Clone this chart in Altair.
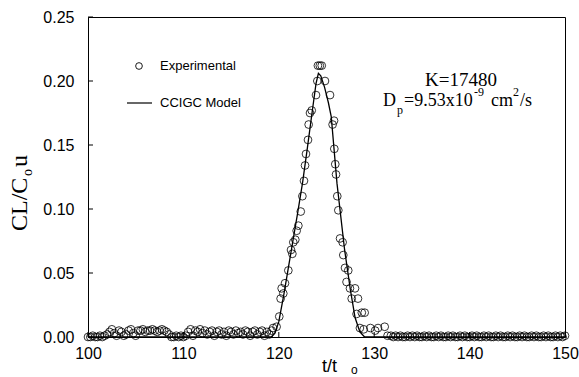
import altair as alt
import pandas as pd

# ---- data ----
base_left_t = [100.0, 100.25, 100.5, 100.75, 101.0, 101.25, 101.5, 101.75, 102.0, 102.25,
               102.5, 102.75, 103.0, 103.25, 103.5, 103.75, 104.0, 104.25, 104.5, 104.75,
               105.0, 105.25, 105.5, 105.75, 106.0, 106.25, 106.5, 106.75, 107.0, 107.25,
               107.5, 107.75, 108.0, 108.25, 108.5, 108.75, 109.0, 109.25, 109.5, 109.75,
               110.0, 110.25, 110.5, 110.75, 111.0, 111.25, 111.5, 111.75, 112.0, 112.25,
               112.5, 112.75, 113.0, 113.25, 113.5, 113.75, 114.0, 114.25, 114.5, 114.75,
               115.0, 115.25, 115.5, 115.75, 116.0, 116.25, 116.5, 116.75, 117.0, 117.25,
               117.5, 117.75, 118.0, 118.25, 118.5, 118.75, 119.0, 119.25]
base_left_v = [0.000, 0.000, 0.001, 0.000, 0.000, 0.001, 0.000, 0.001, 0.002, 0.004,
               0.006, 0.003, 0.001, 0.005, 0.004, 0.001, 0.002, 0.005, 0.006, 0.003,
               0.001, 0.005, 0.005, 0.006, 0.004, 0.005, 0.005, 0.006, 0.005, 0.004,
               0.005, 0.006, 0.005, 0.004, 0.002, 0.000, 0.000, 0.001, 0.000, 0.001,
               0.000, 0.001, 0.004, 0.006, 0.001, 0.005, 0.004, 0.006, 0.003, 0.005,
               0.002, 0.004, 0.005, 0.001, 0.004, 0.005, 0.002, 0.004, 0.001, 0.005,
               0.004, 0.002, 0.005, 0.003, 0.004, 0.002, 0.005, 0.004, 0.001, 0.004,
               0.005, 0.002, 0.004, 0.005, 0.001, 0.004, 0.002, 0.005]

peak_t = [119.4, 119.77, 120.05, 120.19, 120.3, 120.47, 120.65, 121.0, 121.28, 121.42,
          121.52, 121.73, 121.87, 122.05, 122.3, 122.47, 122.64, 122.75, 122.85, 123.06,
          123.13, 123.27, 123.45, 123.9, 124.04, 124.1, 124.3, 124.5, 124.84, 125.37,
          125.64, 125.79, 125.82, 125.92, 126.0, 126.13, 126.24, 126.42, 126.69, 126.76,
          126.94, 127.1, 127.28, 127.46, 127.64, 127.99, 128.15, 128.3, 128.5, 128.7,
          129.0, 128.9, 129.6, 130.1, 130.4, 131.1, 131.4]
peak_v = [0.007, 0.008, 0.016, 0.030, 0.038, 0.034, 0.042, 0.052, 0.068, 0.065,
          0.074, 0.076, 0.083, 0.087, 0.098, 0.110, 0.122, 0.134, 0.143, 0.154,
          0.166, 0.175, 0.177, 0.189, 0.200, 0.212, 0.212, 0.212, 0.200, 0.189,
          0.166, 0.169, 0.147, 0.135, 0.127, 0.110, 0.099, 0.077, 0.074, 0.064,
          0.054, 0.043, 0.052, 0.038, 0.030, 0.038, 0.018, 0.030, 0.007, 0.019,
          0.019, 0.006, 0.007, 0.005, 0.007, 0.008, 0.001]

base_right_t = [131.75, 132.0, 132.25, 132.5, 132.75, 133.0, 133.25, 133.5, 133.75, 134.0,
                134.25, 134.5, 134.75, 135.0, 135.25, 135.5, 135.75, 136.0, 136.25, 136.5,
                136.75, 137.0, 137.25, 137.5, 137.75, 138.0, 138.25, 138.5, 138.75, 139.0,
                139.25, 139.5, 139.75, 140.0, 140.25, 140.5, 140.75, 141.0, 141.25, 141.5,
                141.75, 142.0, 142.25, 142.5, 142.75, 143.0, 143.25, 143.5, 143.75, 144.0,
                144.25, 144.5, 144.75, 145.0, 145.25, 145.5, 145.75, 146.0, 146.25, 146.5,
                146.75, 147.0, 147.25, 147.5, 147.75, 148.0, 148.25, 148.5, 148.75, 149.0,
                149.25, 149.5, 149.75, 150.0]
base_right_v = [0.001, 0.000, 0.001, 0.000, 0.001, 0.000, 0.000, 0.001, 0.000, 0.001,
                0.000, 0.001, 0.000, 0.000, 0.001, 0.000, 0.001, 0.000, 0.000, 0.001,
                0.000, 0.001, 0.000, 0.000, 0.001, 0.000, 0.001, 0.000, 0.000, 0.001,
                0.000, 0.001, 0.000, 0.000, 0.001, 0.000, 0.001, 0.000, 0.000, 0.001,
                0.000, 0.001, 0.000, 0.000, 0.001, 0.000, 0.001, 0.000, 0.000, 0.001,
                0.000, 0.001, 0.000, 0.000, 0.001, 0.000, 0.001, 0.000, 0.000, 0.001,
                0.000, 0.001, 0.000, 0.000, 0.001, 0.000, 0.001, 0.000, 0.000, 0.001,
                0.000, 0.001, 0.000, 0.001]

model_t = [100.0, 119.2, 119.6, 120.0, 120.5, 121.0, 121.5, 122.0, 122.5, 123.0,
           123.5, 123.9, 124.15, 124.4, 124.8, 125.2, 125.5, 126.1, 126.9, 127.5,
           128.0, 128.5, 129.0, 150.0]
model_v = [0.0, 0.0, 0.003, 0.012, 0.032, 0.054, 0.076, 0.098, 0.121, 0.148,
           0.176, 0.198, 0.206, 0.204, 0.195, 0.183, 0.172, 0.120, 0.068, 0.037,
           0.015, 0.004, 0.0, 0.0]

x_ticks = [100, 110, 120, 130, 140, 150]
y_ticks = [0.0, 0.05, 0.10, 0.15, 0.20, 0.25]

# ---- tables ----
exp_df = pd.DataFrame({"t": base_left_t + peak_t + base_right_t,
                       "v": base_left_v + peak_v + base_right_v})
model_df = pd.DataFrame({"t": model_t, "v": model_v})
xt_df = pd.DataFrame({"t": x_ticks})
yt_df = pd.DataFrame({"v": y_ticks})
one = pd.DataFrame({"a": [0]})

W, H = 477, 320
SANS = "Liberation Sans"
SERIF = "Liberation Serif"

xscale = alt.Scale(domain=[100, 150], nice=False, zero=False, padding=0)
yscale = alt.Scale(domain=[0, 0.25], nice=False, padding=0)

xaxis = alt.Axis(values=x_ticks, title=None, grid=False, tickSize=0, labelPadding=8,
                 labelFont=SANS, labelFontSize=16, labelColor="black", labelFlush=False,
                 labelOverlap=False, domainColor="black", format="d")
yaxis = alt.Axis(values=y_ticks, title=None, grid=False, tickSize=0, labelPadding=14,
                 labelFont=SANS, labelFontSize=16, labelColor="black", labelFlush=False,
                 labelOverlap=False, domainColor="black", format=".2f")

points = alt.Chart(exp_df).mark_point(shape="circle", filled=False, size=60,
                                      color="black", strokeWidth=0.8, opacity=1).encode(
    x=alt.X("t:Q", scale=xscale, axis=xaxis),
    y=alt.Y("v:Q", scale=yscale, axis=yaxis),
)

model = alt.Chart(model_df).mark_line(color="black", strokeWidth=1.3).encode(
    x=alt.X("t:Q", scale=xscale),
    y=alt.Y("v:Q", scale=yscale),
)

xticks = alt.Chart(xt_df).mark_rule(color="black", strokeWidth=1).encode(
    x=alt.X("t:Q", scale=xscale), y=alt.value(H), y2=alt.value(H - 5))
yticks = alt.Chart(yt_df).mark_rule(color="black", strokeWidth=1).encode(
    y=alt.Y("v:Q", scale=yscale), x=alt.value(0), x2=alt.value(5))

def txt(s, x, y, size, font, align="left", baseline="middle", angle=0):
    kw = dict(text=s, align=align, baseline=baseline, font=font, fontSize=size,
              color="black")
    if angle:
        kw["angle"] = angle
    return alt.Chart(one).mark_text(**kw).encode(x=alt.value(x), y=alt.value(y))

# legend
leg_pt = alt.Chart(one).mark_point(shape="circle", filled=False, size=45, color="black",
                                   strokeWidth=0.9, opacity=1).encode(
    x=alt.value(51), y=alt.value(49))
leg_ln = alt.Chart(one).mark_rule(color="black", strokeWidth=1.2).encode(
    x=alt.value(39), x2=alt.value(64), y=alt.value(86))
leg_t1 = txt("Experimental", 72, 49, 13, SANS)
leg_t2 = txt("CCIGC Model", 72, 86, 13, SANS)

# annotation
ann = [
    txt("K=17480", 373, 63, 19, SERIF, align="center"),
    txt("D", 295, 84, 18, SERIF),
    txt("p", 309, 93, 12, SERIF),
    txt("=9.53x10", 316, 84, 18, SERIF),
    txt("-9", 386, 75, 12, SERIF),
    txt("cm", 403, 84, 18, SERIF),
    txt("2", 425, 75, 12, SERIF),
    txt("/s", 432, 84, 18, SERIF),
]

# axis titles
xt1 = txt("t/t", 234, 350, 18, SANS)
xt2 = txt("o", 263, 353, 12, SANS)
yt1 = txt("CL/C", -68, 214, 24, SERIF, angle=270)
yt2 = txt("o", -60, 159, 14, SERIF, angle=270)
yt3 = txt("u", -68, 150, 24, SERIF, angle=270)

chart = alt.layer(points, model, xticks, yticks, leg_pt, leg_ln, leg_t1, leg_t2,
                  *ann, xt1, xt2, yt1, yt2, yt3).properties(
    width=W, height=H,
    autosize=alt.AutoSizeParams(type="none"),
    padding={"left": 88, "top": 17, "right": 14, "bottom": 40},
).configure_view(stroke="black", strokeWidth=1).configure_axis(domainWidth=1)

chart.save("out.html", embed_options={"renderer": "svg", "actions": False})
